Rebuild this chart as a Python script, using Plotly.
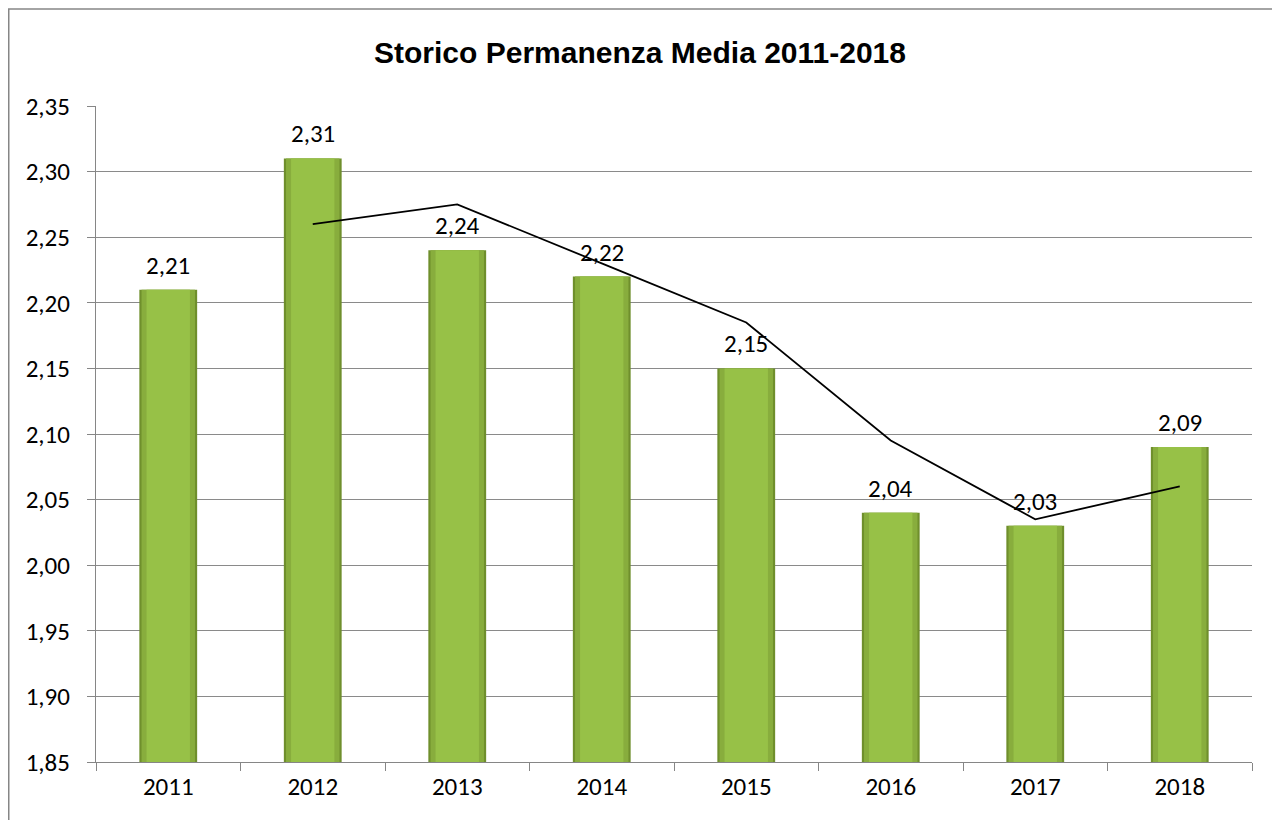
import plotly.graph_objects as go

years = ["2011", "2012", "2013", "2014", "2015", "2016", "2017", "2018"]
values = [2.21, 2.31, 2.24, 2.22, 2.15, 2.04, 2.03, 2.09]
trend_years = ["2012", "2013", "2014", "2015", "2016", "2017", "2018"]
trend_values = [2.26, 2.275, 2.23, 2.185, 2.095, 2.035, 2.06]
y_ticks = [1.85, 1.90, 1.95, 2.00, 2.05, 2.10, 2.15, 2.20, 2.25, 2.30, 2.35]

label_font = dict(family="Carlito, Lato, Open Sans, sans-serif", size=25, color="#000000")

W, H = 1272, 812
ML, MR, MT, MB = 88, 28, 98, 58
PW, PH = W - ML - MR, H - MT - MB

fig = go.Figure()
fig.add_trace(go.Bar(x=years, y=values, width=0.4,
                     marker=dict(color="#6f8f2c", line=dict(width=0)),
                     hoverinfo="skip", showlegend=False))
fig.add_trace(go.Bar(x=years, y=values, width=0.37,
                     marker=dict(color="#88ad3d", line=dict(width=0)),
                     hoverinfo="skip", showlegend=False))
fig.add_trace(go.Bar(x=years, y=values, width=0.3,
                     marker=dict(color="#97c147", line=dict(width=0)),
                     showlegend=False))
fig.add_trace(go.Scatter(x=trend_years, y=trend_values, mode="lines",
                         line=dict(color="#000000", width=1.8),
                         showlegend=False, hoverinfo="skip"))

annotations = [dict(x=i, y=v, xref="x", yref="y", text=f"{v:.2f}".replace(".", ","),
                    showarrow=False, yanchor="bottom", yshift=7, font=label_font)
               for i, v in enumerate(values)]

fig.update_layout(
    width=W, height=H,
    barmode="overlay",
    separators=",.",
    paper_bgcolor="#ffffff", plot_bgcolor="#ffffff",
    margin=dict(l=ML, r=MR, t=MT, b=MB),
    title=dict(text="<b>Storico Permanenza Media 2011-2018</b>",
               x=(640 - 8) / W, xref="container", xanchor="center",
               y=1 - 44 / H, yref="container", yanchor="middle",
               font=dict(family="Liberation Sans Narrow, Arial Narrow, Liberation Sans, Arial, sans-serif",
                         size=30, color="#000000")),
    xaxis=dict(type="category", categoryorder="array", categoryarray=years,
               tickson="boundaries", ticks="outside", ticklen=8,
               tickcolor="#868686", tickwidth=1, showline=True, linecolor="#868686",
               linewidth=1.2, showgrid=False, tickfont=label_font, ticklabelstandoff=2),
    yaxis=dict(range=[1.85, 2.35], tickvals=y_ticks, tickformat=".2f",
               ticks="outside", ticklen=8, tickcolor="#868686", showline=True,
               linecolor="#868686", linewidth=1.2, showgrid=True, gridcolor="#8a8a8a",
               gridwidth=1, zeroline=False, tickfont=label_font, ticklabelstandoff=12),
    annotations=annotations,
    shapes=[dict(type="rect", xref="paper", yref="paper",
                 x0=(0.75 - ML) / PW, x1=(W + 20 - ML) / PW,
                 y0=(MT + PH - H - 20) / PH, y1=(MT + PH - 1) / PH,
                 line=dict(color="#868686", width=1.5), fillcolor="rgba(0,0,0,0)",
                 layer="below")],
)

fig.write_html("out.html")
